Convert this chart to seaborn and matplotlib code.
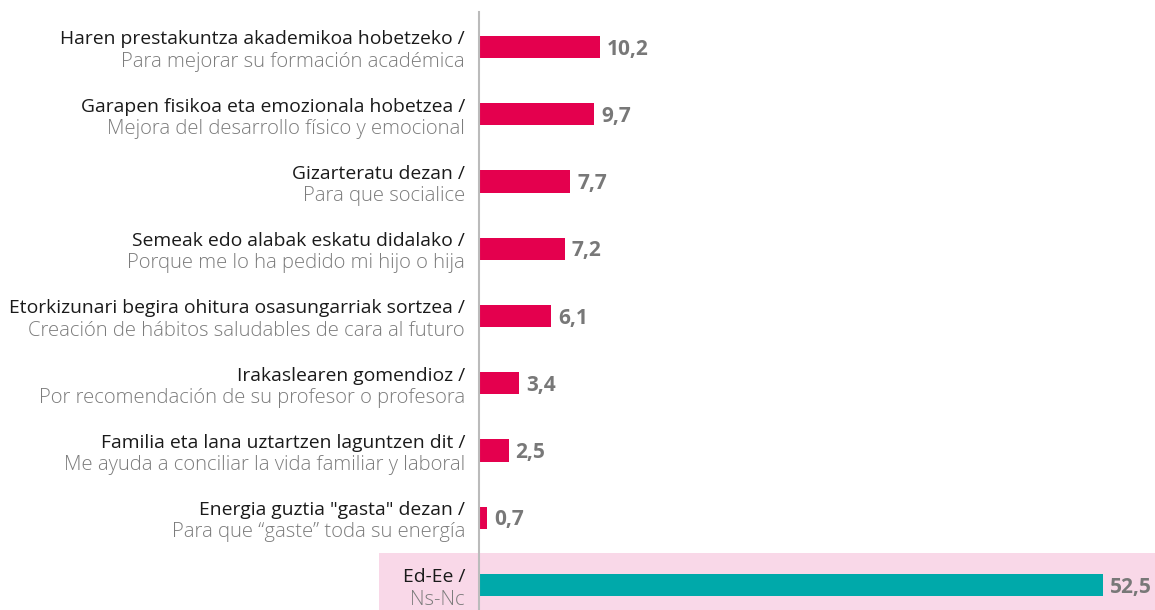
import matplotlib
matplotlib.use("Agg")
import matplotlib.pyplot as plt
import seaborn as sns
import pandas as pd

# datos del gráfico
labels_eu = [
    "Haren prestakuntza akademikoa hobetzeko /",
    "Garapen fisikoa eta emozionala hobetzea /",
    "Gizarteratu dezan /",
    "Semeak edo alabak eskatu didalako /",
    "Etorkizunari begira ohitura osasungarriak sortzea /",
    "Irakaslearen gomendioz /",
    "Familia eta lana uztartzen laguntzen dit /",
    "Energia guztia \"gasta\" dezan /",
    "Ed-Ee /",
]
labels_es = [
    "Para mejorar su formación académica",
    "Mejora del desarrollo físico y emocional",
    "Para que socialice",
    "Porque me lo ha pedido mi hijo o hija",
    "Creación de hábitos saludables de cara al futuro",
    "Por recomendación de su profesor o profesora",
    "Me ayuda a conciliar la vida familiar y laboral",
    "Para que “gaste” toda su energía",
    "Ns-Nc",
]
values = [10.2, 9.7, 7.7, 7.2, 6.1, 3.4, 2.5, 0.7, 52.5]
groups = ["motivo"] * 8 + ["nsnc"]

RED = "#E4004E"
TEAL = "#00A9AA"
PINK = "#F9D8E8"

sns.set_style("white")
plt.rcParams["font.family"] = ["Open Sans", "DejaVu Sans"]

df = pd.DataFrame({"label": labels_eu, "value": values, "group": groups})

fig = plt.figure(figsize=(11.55, 6.10), dpi=100)
ax = fig.add_axes([479 / 1155, 0, 676 / 1155, 598 / 610])

sns.barplot(data=df, x="value", y="label", hue="group",
            palette={"motivo": RED, "nsnc": TEAL}, saturation=1,
            dodge=False, legend=False, width=0.33, linewidth=0,
            ax=ax, zorder=3)

ax.set_xlim(0, 676 / 11.88)
ax.set_ylim(8.37, -0.52)
ax.set_xticks([])
ax.set_yticks([])
ax.set_xlabel("")
ax.set_ylabel("")
for s in ["top", "right", "bottom"]:
    ax.spines[s].set_visible(False)
ax.spines["left"].set_color("#BBBBBB")
ax.spines["left"].set_linewidth(1.5)
ax.spines["left"].set_zorder(4)

# franja rosa de Ns-Nc
ax.axhspan(7.52, 8.6, xmin=-100 / 676, xmax=1.0, color=PINK,
           zorder=0, clip_on=False, lw=0)

for i, (eu, es, v) in enumerate(zip(labels_eu, labels_es, values)):
    ax.annotate(eu, xy=(0, i), xycoords=("axes fraction", "data"),
                xytext=(-10, 5.5), textcoords="offset points",
                ha="right", va="center", fontsize=13.9, color="#1A1A1A")
    ax.annotate(es, xy=(0, i), xycoords=("axes fraction", "data"),
                xytext=(-10, -10.5), textcoords="offset points",
                ha="right", va="center", fontsize=14.6, color="#7C7C7C",
                fontweight="light")
    ax.annotate(f"{v:.1f}".replace(".", ","), xy=(v, i),
                xytext=(5, -1.5), textcoords="offset points",
                ha="left", va="center", fontsize=15, fontweight="bold",
                color="#787878")

fig.savefig("out.png", dpi=100)
